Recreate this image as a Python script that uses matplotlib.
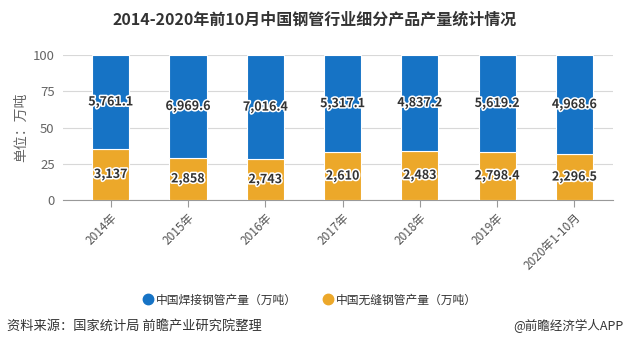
import matplotlib
matplotlib.use("Agg")
import matplotlib.pyplot as plt
import matplotlib.patheffects as pe
import numpy as np
from matplotlib.lines import Line2D

plt.rcParams['font.family'] = ['Noto Sans CJK SC', 'DejaVu Sans']

categories = ["2014年", "2015年", "2016年", "2017年", "2018年", "2019年", "2020年1-10月"]
welded = [5761.1, 6969.6, 7016.4, 5317.1, 4837.2, 5619.2, 4968.6]
seamless = [3137, 2858, 2743, 2610, 2483, 2798.4, 2296.5]
welded_labels = ["5,761.1", "6,969.6", "7,016.4", "5,317.1", "4,837.2", "5,619.2", "4,968.6"]
seamless_labels = ["3,137", "2,858", "2,743", "2,610", "2,483", "2,798.4", "2,296.5"]
series_names = ["中国焊接钢管产量（万吨）", "中国无缝钢管产量（万吨）"]
yticks = [0, 25, 50, 75, 100]

blue = "#1673c5"
orange = "#eca82a"

fig = plt.figure(figsize=(6.29, 3.46), dpi=100)
ax = fig.add_axes([63 / 629, 0.422, 550 / 629, 0.419])

w = np.array(welded)
s = np.array(seamless)
tot = w + s
sp = s / tot * 100
wp = w / tot * 100
x = np.arange(len(categories))
bw = 0.48
ax.bar(x, sp, bw, color=orange, edgecolor="white", linewidth=0.8, zorder=3)
ax.bar(x, wp, bw, bottom=sp, color=blue, edgecolor="white", linewidth=0.8, zorder=3)

effects = [pe.withStroke(linewidth=2.2, foreground="white")]
for i in range(len(x)):
    ax.text(x[i], sp[i] / 2, seamless_labels[i], ha="center", va="center",
            fontsize=9, fontweight="bold", color="#333333", path_effects=effects, zorder=5)
    ax.text(x[i], sp[i] + wp[i] / 2, welded_labels[i], ha="center", va="center",
            fontsize=9, fontweight="bold", color="#333333", path_effects=effects, zorder=5)

ax.set_xlim(-0.617, len(x) - 0.5)
ax.set_ylim(0, 100)
ax.set_yticks(yticks)
ax.set_yticklabels([str(v) for v in yticks], fontsize=9.5, color="#666666")
ax.set_xticks(x)
ax.set_xticklabels(categories, rotation=45, ha="right", rotation_mode="anchor",
                   fontsize=8.5, color="#555555")
ax.tick_params(axis="y", length=0, pad=6)
ax.tick_params(axis="x", length=5, color="#999999", pad=3)
ax.grid(axis="y", color="#d8d8d8", linewidth=0.8, zorder=0)
for sp_name in ["top", "right", "left"]:
    ax.spines[sp_name].set_visible(False)
ax.spines["bottom"].set_color("#999999")
ax.set_ylabel("单位：万吨", fontsize=10, color="#666666")
ax.yaxis.set_label_coords(-35 / 550, 0.5)

fig.text(0.5, 1 - 20 / 346, "2014-2020年前10月中国钢管行业细分产品产量统计情况",
         ha="center", va="center", fontsize=11.5, fontweight="bold", color="#333333")

handles = [Line2D([0], [0], marker="o", linestyle="", markersize=7.5, color=blue),
           Line2D([0], [0], marker="o", linestyle="", markersize=7.5, color=orange)]
fig.legend(handles, series_names, loc="center left", bbox_to_anchor=(141 / 629, 1 - 300 / 346),
           ncol=2, frameon=False, fontsize=8.5, handletextpad=0.1, columnspacing=2.0,
           handlelength=1.2, labelcolor="#333333", borderpad=0, borderaxespad=0)

fig.text(7 / 629, 1 - 326 / 346, "资料来源：国家统计局 前瞻产业研究院整理", ha="left", va="center",
         fontsize=9.5, color="#333333")
fig.text(623 / 629, 1 - 326 / 346, "@前瞻经济学人APP", ha="right", va="center",
         fontsize=9, color="#333333")

fig.savefig("out.png", dpi=100)
